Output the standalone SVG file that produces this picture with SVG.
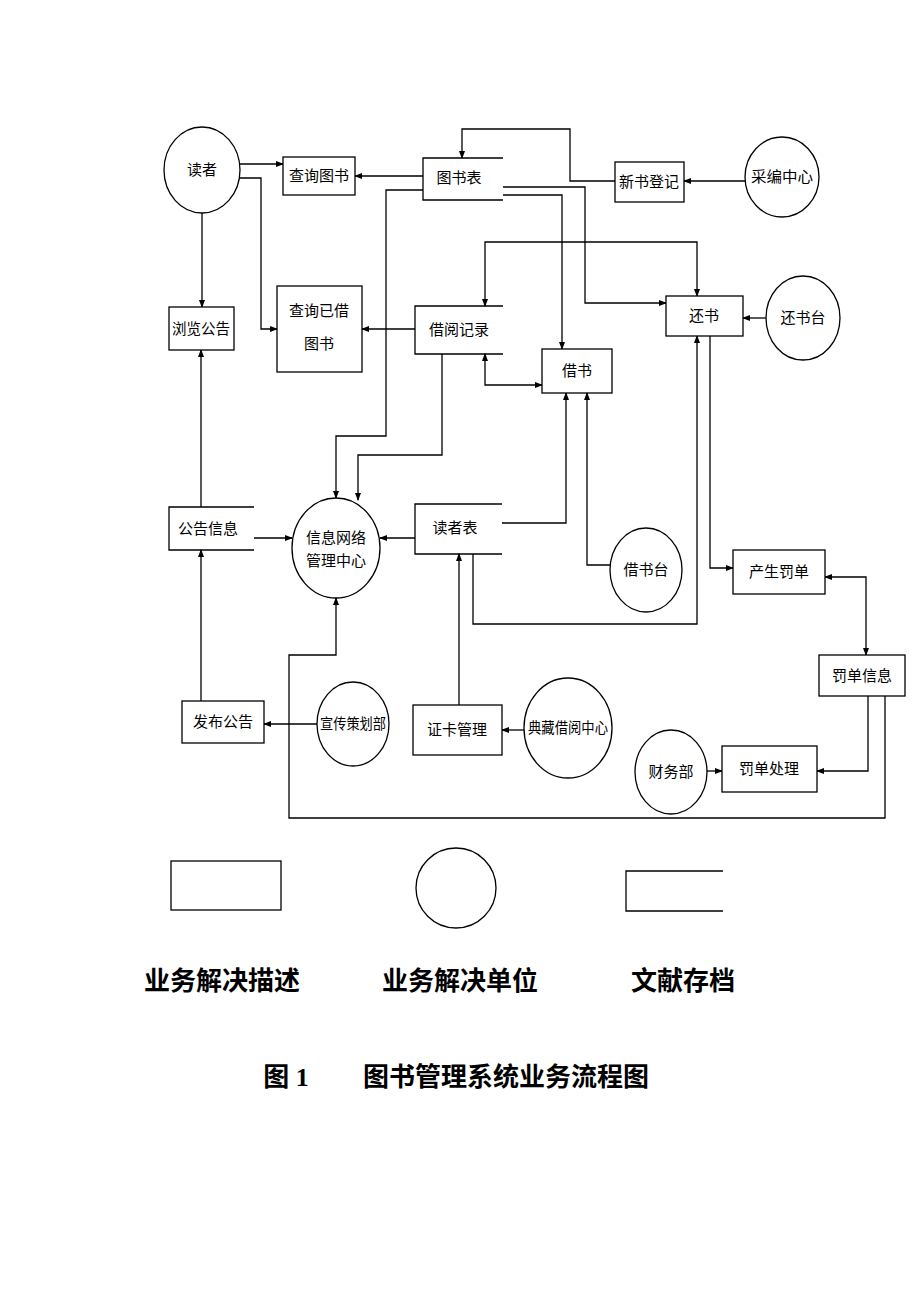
<svg xmlns="http://www.w3.org/2000/svg" width="920" height="1302" viewBox="0 0 920 1302">
<style>
.b{fill:#fff;stroke:#000;stroke-width:1.3}
.o{fill:none;stroke:#000;stroke-width:1.3}
.t{font-family:"Noto Sans CJK SC",sans-serif;font-size:15px;text-anchor:middle;fill:#000}
.c path{fill:none;stroke:#000;stroke-width:1.3;marker-end:url(#a)}
.L{font-family:"Liberation Serif","Noto Sans CJK SC",serif;font-size:26px;font-weight:bold;text-anchor:middle}
</style>
<defs><marker id="a" markerWidth="8" markerHeight="6" refX="7" refY="3" orient="auto" markerUnits="userSpaceOnUse"><path d="M0,0 L8,3 L0,6z" fill="#000"/></marker>
<marker id="s" markerWidth="8" markerHeight="6" refX="1" refY="3" orient="auto" markerUnits="userSpaceOnUse"><path d="M8,0 L0,3 L8,6z" fill="#000"/></marker></defs>
<rect width="920" height="1302" fill="#fff"/>
<g class="c">
<path d="M240,164H283"/>
<path d="M240,178H261V329H277"/>
<path d="M202,212V307"/>
<path d="M423,176H355"/>
<path d="M615,181H570V129H462V158"/>
<path d="M745,181H684"/>
<path d="M503,187H585V303H666"/>
<path d="M503,195H562V349"/>
<path d="M423,190H386V436H336V498"/>
<path d="M485,306V242H697V296" style="marker-start:url(#s)"/>
<path d="M415,329H362"/>
<path d="M485,354V385H542" style="marker-start:url(#s)"/>
<path d="M442,354V455H358V500"/>
<path d="M766,318H743"/>
<path d="M710,336V568H733"/>
<path d="M473,554V624H697V336"/>
<path d="M502,523H566V393"/>
<path d="M610,565H587V393"/>
<path d="M415,538H380"/>
<path d="M254,538H292"/>
<path d="M201,507V350"/>
<path d="M201,701V550"/>
<path d="M317,724H264"/>
<path d="M459,705V554"/>
<path d="M524,730H502"/>
<path d="M825,577H866V655" style="marker-start:url(#s)"/>
<path d="M868,696V771H817"/>
<path d="M707,771H722"/>
<path d="M885,696V818H289V655H336V598"/>
</g>
<g id="n1"><ellipse class="b" cx="202" cy="170" rx="38" ry="43"/><text class="t" x="202" y="175">读者</text></g>
<g id="n2"><rect class="b" x="283" y="157" width="72" height="38"/><text class="t" x="319" y="181">查询图书</text></g>
<g id="n3"><path class="o" d="M503,158H423V200H503"/><text class="t" x="459" y="183">图书表</text></g>
<g id="n4"><rect class="b" x="615" y="162" width="69" height="40"/><text class="t" x="649" y="187">新书登记</text></g>
<g id="n5"><ellipse class="b" cx="782" cy="177" rx="37" ry="40"/><text class="t" x="782" y="182" textLength="62" lengthAdjust="spacingAndGlyphs">采编中心</text></g>
<g id="n6"><rect class="b" x="169" y="307" width="65" height="43"/><text class="t" x="201" y="334" textLength="58" lengthAdjust="spacingAndGlyphs">浏览公告</text></g>
<g id="n7"><rect class="b" x="277" y="286" width="85" height="86"/><text class="t" x="319" y="316">查询已借</text><text class="t" x="319" y="349">图书</text></g>
<g id="n8"><path class="o" d="M503,306H415V354H503"/><text class="t" x="459" y="335">借阅记录</text></g>
<g id="n9"><rect class="b" x="666" y="296" width="77" height="40"/><text class="t" x="704" y="321">还书</text></g>
<g id="n10"><ellipse class="b" cx="803" cy="318" rx="37" ry="42"/><text class="t" x="803" y="323">还书台</text></g>
<g id="n11"><rect class="b" x="542" y="349" width="70" height="44"/><text class="t" x="577" y="376">借书</text></g>
<g id="n12"><path class="o" d="M254,507H169V550H254"/><text class="t" x="208" y="534">公告信息</text></g>
<g id="n13"><ellipse class="b" cx="336" cy="548" rx="44" ry="50"/><text class="t" x="336" y="543">信息网络</text><text class="t" x="336" y="566">管理中心</text></g>
<g id="n14"><path class="o" d="M502,504H415V554H502"/><text class="t" x="455" y="533">读者表</text></g>
<g id="n15"><ellipse class="b" cx="646" cy="570" rx="36" ry="42"/><text class="t" x="646" y="575">借书台</text></g>
<g id="n16"><rect class="b" x="733" y="550" width="92" height="44"/><text class="t" x="779" y="577">产生罚单</text></g>
<g id="n17"><rect class="b" x="819" y="655" width="86" height="41"/><text class="t" x="862" y="681">罚单信息</text></g>
<g id="n18"><rect class="b" x="182" y="701" width="82" height="42"/><text class="t" x="223" y="727">发布公告</text></g>
<g id="n19"><ellipse class="b" cx="353" cy="724" rx="36" ry="42"/><text class="t" x="353" y="729" textLength="66" lengthAdjust="spacingAndGlyphs">宣传策划部</text></g>
<g id="n20"><rect class="b" x="413" y="705" width="89" height="50"/><text class="t" x="457" y="735">证卡管理</text></g>
<g id="n21"><ellipse class="b" cx="568" cy="728" rx="44" ry="50"/><text class="t" x="568" y="733" textLength="80" lengthAdjust="spacingAndGlyphs">典藏借阅中心</text></g>
<g id="n22"><ellipse class="b" cx="671" cy="772" rx="36" ry="42"/><text class="t" x="671" y="777">财务部</text></g>
<g id="n23"><rect class="b" x="722" y="746" width="95" height="46"/><text class="t" x="769" y="774">罚单处理</text></g>
<g id="legend">
<rect class="b" x="171" y="861" width="110" height="49"/>
<ellipse class="b" cx="456" cy="888" rx="40" ry="40"/>
<path class="o" d="M723,871H626V911H723"/>
<text class="L" x="222" y="990">业务解决描述</text>
<text class="L" x="460" y="990">业务解决单位</text>
<text class="L" x="683" y="990">文献存档</text>
<text class="L" x="286" y="1086">图 1</text>
<text class="L" x="506" y="1086">图书管理系统业务流程图</text>
</g>
</svg>
